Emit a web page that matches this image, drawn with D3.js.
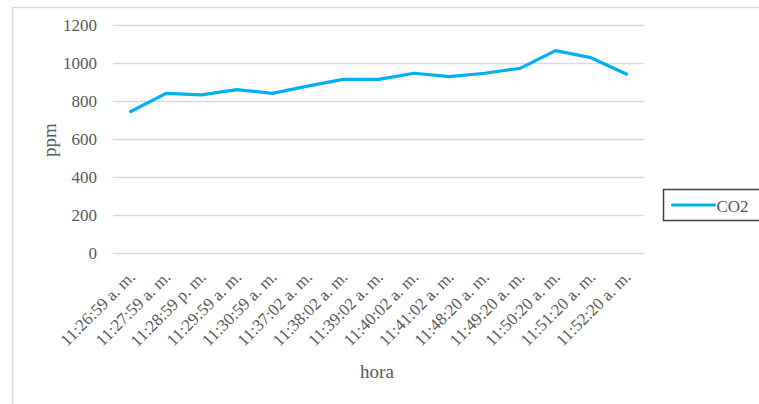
<!DOCTYPE html>
<html lang="en">
<head>
<meta charset="UTF-8">
<title>CO2 ppm por hora</title>
<script src="https://d3js.org/d3.v7.min.js"></script>
<style>
    body { margin: 0; background: #fff; }
    svg text { fill: #595959; }
</style>
</head>
<body>
<div id="chart"></div>
<script>
    // data
    const horas = ['11:26:59 a. m.', '11:27:59 a. m.', '11:28:59 p. m.', '11:29:59 a. m.', '11:30:59 a. m.',
        '11:37:02 a. m.', '11:38:02 a. m.', '11:39:02 a. m.', '11:40:02 a. m.', '11:41:02 a. m.',
        '11:48:20 a. m.', '11:49:20 a. m.', '11:50:20 a. m.', '11:51:20 a. m.', '11:52:20 a. m.'];
    const co2 = [745, 840, 832, 860, 840, 878, 914, 914, 946, 928, 946, 972, 1065, 1028, 942];
    const yTicks = [0, 200, 400, 600, 800, 1000, 1200];
    const seriesName = 'CO2';

    const W = 759, H = 404;
    const font = '"Liberation Serif", "Times New Roman", serif';
    const margin = { left: 113, right: 115, top: 25, bottom: 151 };
    const width = W - margin.left - margin.right;
    const height = H - margin.top - margin.bottom;

    const svg = d3.select('#chart').append('svg')
        .attr('width', W).attr('height', H)
        .attr('font-family', font);

    // chart frame (runs off the right and bottom edge)
    svg.append('rect')
        .attr('x', 12.5).attr('y', 7.5)
        .attr('width', 800).attr('height', 450)
        .attr('fill', 'none').attr('stroke', '#d9d9d9').attr('stroke-width', 1.5);

    const g = svg.append('g').attr('transform', `translate(${margin.left},${margin.top})`);

    const x = d3.scalePoint().domain(horas).range([0, width]).padding(0.5);
    const y = d3.scaleLinear().domain([0, 1200]).range([height, 0]);

    // gridlines + y labels
    const yAxis = g.append('g')
        .call(d3.axisLeft(y).tickValues(yTicks).tickSize(-width).tickPadding(16).tickFormat(d3.format('d')))
        .attr('font-family', font).attr('font-size', 17);
    yAxis.select('.domain').remove();
    yAxis.selectAll('line').attr('stroke', '#d9d9d9').attr('stroke-width', 1.3);

    // x labels, rotated
    const xAxis = g.append('g')
        .attr('transform', `translate(0,${height})`)
        .call(d3.axisBottom(x).tickSize(0))
        .attr('font-family', font).attr('font-size', 17);
    xAxis.select('.domain').remove();
    xAxis.selectAll('text')
        .style('text-anchor', 'end')
        .attr('dy', null)
        .attr('y', 0)
        .attr('transform', 'translate(5,25) rotate(-45)');

    // line
    const line = d3.line().x((d, i) => x(horas[i])).y(d => y(d));
    g.append('path')
        .datum(co2)
        .attr('d', line)
        .attr('fill', 'none')
        .attr('stroke', '#00b0f0')
        .attr('stroke-width', 3.2)
        .attr('stroke-linejoin', 'round')
        .attr('stroke-linecap', 'round');

    // axis titles
    svg.append('text')
        .attr('x', 377).attr('y', 378)
        .attr('text-anchor', 'middle')
        .style('font-size', '19px')
        .text('hora');

    svg.append('text')
        .attr('transform', 'translate(56,140) rotate(-90)')
        .attr('text-anchor', 'middle')
        .style('font-size', '19px')
        .text('ppm');

    // legend
    const legend = svg.append('g').attr('transform', 'translate(663.5,189.5)');
    legend.append('rect')
        .attr('width', 120).attr('height', 31)
        .attr('fill', '#fff').attr('stroke', '#404040').attr('stroke-width', 1.5);
    legend.append('line')
        .attr('x1', 9).attr('x2', 51).attr('y1', 15.5).attr('y2', 15.5)
        .attr('stroke', '#00b0f0').attr('stroke-width', 3.2).attr('stroke-linecap', 'round');
    legend.append('text')
        .attr('x', 53).attr('y', 22)
        .style('font-size', '17px')
        .text(seriesName);
</script>
</body>
</html>
